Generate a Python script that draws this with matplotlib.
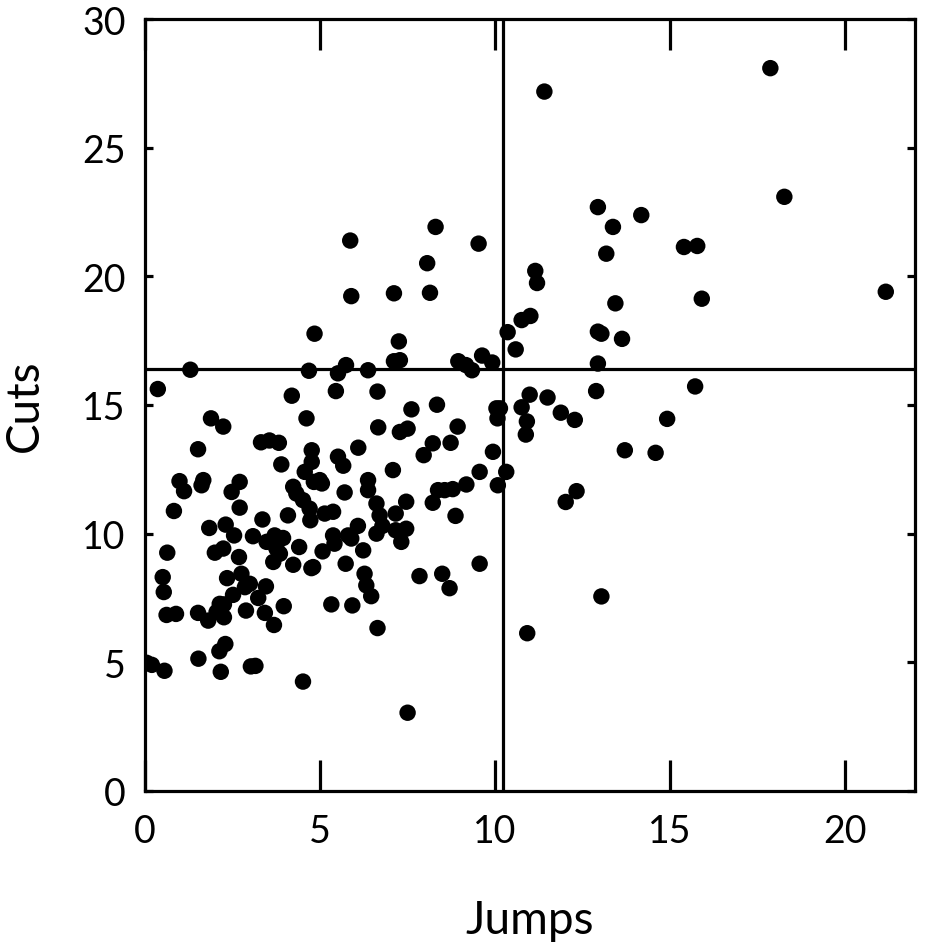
import matplotlib
matplotlib.use("Agg")
import matplotlib.pyplot as plt
import numpy as np

# jumps (x) and cuts (y)
jumps = [17.87, 11.41, 18.27, 12.94, 14.18, 13.37, 8.30, 5.86, 9.53, 15.40,
         15.78, 13.18, 8.06, 11.15, 11.20, 21.17, 7.11, 8.14, 5.89, 15.91,
         13.44, 10.76, 11.01, 4.84, 10.36, 12.94, 13.04, 13.63, 7.25, 10.59,
         7.11, 7.28, 8.95, 9.17, 9.34, 9.63, 9.92, 12.94, 5.74, 5.51,
         4.68, 6.37, 1.29, 0.36, 5.45, 6.64, 12.89, 15.72, 4.19, 10.99,
         11.50, 10.76, 10.04, 7.61, 8.34, 10.07, 11.88, 12.28, 14.92, 1.88,
         4.61, 2.23, 10.91, 10.88, 6.66, 7.28, 7.50, 8.93, 3.31, 3.55,
         3.82, 1.51, 8.22, 8.73, 6.09, 7.96, 4.76, 13.71, 14.59, 5.51,
         5.66, 3.89, 4.76, 7.08, 9.56, 10.32, 4.56, 4.82, 5.05, 0.98,
         1.11, 1.66, 1.61, 2.70, 2.47, 4.23, 4.32, 4.51, 6.37, 6.37,
         9.18, 10.08, 8.37, 8.79, 8.56, 12.33, 12.02, 5.70, 4.70, 6.61,
         7.46, 8.22, 2.70, 0.82, 4.08, 5.13, 5.37, 6.70, 7.16, 8.87,
         3.35, 6.78, 6.08, 1.83, 2.30, 2.54, 3.08, 5.37, 5.80, 5.89,
         6.61, 7.16, 7.46, 7.32, 3.47, 3.70, 3.94, 3.75, 3.85, 5.41,
         6.23, 4.40, 5.07, 0.63, 1.99, 2.23, 2.68, 3.66, 4.23, 4.75,
         5.73, 9.56, 0.50, 0.53, 2.34, 2.75, 2.99, 2.85, 3.45, 6.27,
         6.32, 6.46, 7.84, 8.49, 8.70, 2.51, 3.23, 2.25, 2.13, 2.04,
         3.96, 5.32, 5.92, 0.61, 0.88, 1.51, 1.80, 2.25, 2.88, 3.42,
         3.68, 6.64, 13.04, 10.92, 2.29, 2.12, 1.52, 0.04, 0.19, 0.55,
         2.16, 3.02, 3.15, 4.51, 7.50, 4.72, 4.80, 9.94, 4.99, 10.14]
cuts = [28.09, 27.18, 23.09, 22.69, 22.38, 21.92, 21.92, 21.39, 21.27, 21.14,
        21.18, 20.88, 20.51, 20.21, 19.74, 19.40, 19.34, 19.36, 19.23, 19.13,
        18.95, 18.30, 18.46, 17.77, 17.83, 17.85, 17.77, 17.57, 17.47, 17.16,
        16.70, 16.74, 16.70, 16.55, 16.35, 16.92, 16.65, 16.61, 16.55, 16.23,
        16.33, 16.35, 16.37, 15.62, 15.54, 15.52, 15.54, 15.72, 15.36, 15.40,
        15.29, 14.91, 14.87, 14.83, 15.01, 14.48, 14.70, 14.42, 14.46, 14.48,
        14.48, 14.16, 14.36, 13.85, 14.13, 13.95, 14.08, 14.16, 13.55, 13.62,
        13.53, 13.28, 13.51, 13.53, 13.34, 13.05, 13.24, 13.24, 13.14, 12.99,
        12.64, 12.69, 12.79, 12.47, 12.40, 12.40, 12.40, 12.01, 11.95, 12.04,
        11.65, 12.08, 11.88, 12.01, 11.62, 11.82, 11.56, 11.30, 12.08, 11.69,
        11.91, 11.88, 11.69, 11.73, 11.69, 11.65, 11.23, 11.60, 10.97, 11.17,
        11.24, 11.20, 11.01, 10.88, 10.71, 10.78, 10.85, 10.71, 10.78, 10.69,
        10.55, 10.30, 10.30, 10.22, 10.35, 9.93, 9.90, 9.93, 9.93, 9.81,
        10.00, 10.13, 10.19, 9.68, 9.68, 9.93, 9.83, 9.42, 9.22, 9.61,
        9.35, 9.48, 9.31, 9.26, 9.26, 9.42, 9.09, 8.90, 8.79, 8.66,
        8.83, 8.83, 8.31, 7.73, 8.27, 8.44, 8.05, 7.92, 7.95, 8.44,
        7.99, 7.57, 8.35, 8.44, 7.88, 7.62, 7.50, 7.25, 7.27, 6.95,
        7.18, 7.25, 7.21, 6.84, 6.88, 6.92, 6.62, 6.75, 7.01, 6.92,
        6.45, 6.33, 7.56, 6.13, 5.71, 5.43, 5.14, 4.98, 4.90, 4.67,
        4.63, 4.84, 4.86, 4.25, 3.04, 10.52, 8.70, 13.18, 12.08, 14.87]

x_split = 10.22
y_split = 16.39

plt.rcParams['font.family'] = ['Lato', 'DejaVu Sans']

fig = plt.figure(figsize=(9.25, 9.53), dpi=100)
ax = fig.add_axes([0.157, 0.169, 0.832, 0.810])

ax.scatter(jumps, cuts, s=140, color='black', edgecolors='none', zorder=3)
ax.axvline(x_split, color='black', lw=2.3, zorder=2)
ax.axhline(y_split, color='black', lw=2.3, zorder=2)

ax.set_xlim(0, 22)
ax.set_ylim(0, 30)
ax.set_xticks([0, 5, 10, 15, 20])
ax.set_yticks([0, 5, 10, 15, 20, 25, 30])

for s in ax.spines.values():
    s.set_linewidth(2.3)

ax.tick_params(axis='x', direction='in', length=22, width=2.3, top=True,
               bottom=True, labelsize=27, pad=16)
ax.tick_params(axis='y', direction='in', length=6, width=2.3, left=True,
               right=True, labelsize=27, pad=14)

ax.set_xlabel('Jumps', fontsize=33, labelpad=36)
ax.set_ylabel('Cuts', fontsize=33, labelpad=26)

fig.savefig('out.png', dpi=100)
